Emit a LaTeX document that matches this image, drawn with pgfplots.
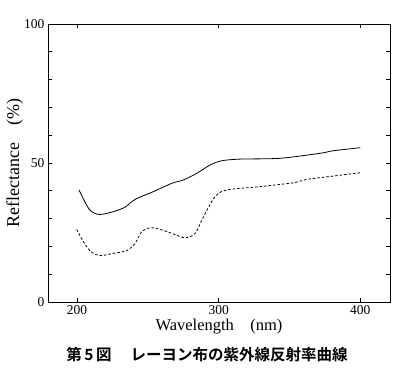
\documentclass[border=0pt]{standalone}
\usepackage{pgfplots}
\pgfplotsset{compat=1.18}
\usepackage{fontspec}
\setmainfont{Liberation Serif}
\newfontfamily\cjk{Noto Sans CJK JP}[BoldFont={* Bold}]
\begin{document}
\begin{tikzpicture}[x=1pt,y=1pt]
\path[use as bounding box] (0,0) rectangle (400,388);
\begin{axis}[
  at={(48pt,86pt)}, anchor=south west,
  scale only axis, width=342pt, height=278pt,
  xmin=179.5, xmax=421, ymin=0, ymax=100,
  xtick={200,300,400}, ytick={0,50,100},
  minor ytick={10,20,30,40,60,70,80,90},
  tick align=inside, major tick length=4pt, minor tick length=4pt,
  tick style={black, line width=0.6pt},
  axis line style={line width=0.8pt},
  /pgf/number format/assume math mode=true,
  ticklabel style={font=\fontsize{13.5}{14}\selectfont},
  xticklabel style={yshift=0pt},
  xlabel={Wavelength\quad(nm)},
  ylabel={Reflectance\quad(\%)},
  xlabel style={font=\fontsize{16.5}{18}\selectfont, at={(axis description cs:0.5,-0.09)}, anchor=center},
  ylabel style={font=\fontsize{18}{20}\selectfont, at={(axis description cs:-0.097,0.5)}, anchor=center},
  clip=false,
]
\addplot[black, line width=0.8pt, smooth] coordinates {
(201.4,40.3) (208.7,33.3) (215.8,31.5) (225.7,32.5) (233.9,34.1) (241,36.9)
(253.9,39.7) (267,42.7) (275.1,43.9) (284.6,46.3) (294,49.3) (302.2,50.8)
(315.2,51.4) (343.5,51.7) (371.7,53.5) (381,54.4) (400,55.5)};
\addplot[black, line width=0.8pt, smooth, dash pattern=on 2.5pt off 2pt] coordinates {
(199.8,26.1) (204.5,21.7) (210,18) (216.3,16.7) (225.7,17.5) (235.1,18.5) (241,21.1)
(245.7,25.3) (251.6,26.7) (258.7,26.1) (268,24.5) (276.3,23.1) (283.4,24.7)
(289.3,30.7) (297.5,37.9) (305.8,40.3) (329.3,41.5) (352.9,42.9) (362.3,44.1)
(381,45.3) (400,46.5)};
\end{axis}
\node[font=\cjk\bfseries\fontsize{15.5}{17}\selectfont] at (207,33) {第\,5\,図\quad\ レーヨン布の紫外線反射率曲線};
\end{tikzpicture}
\end{document}
